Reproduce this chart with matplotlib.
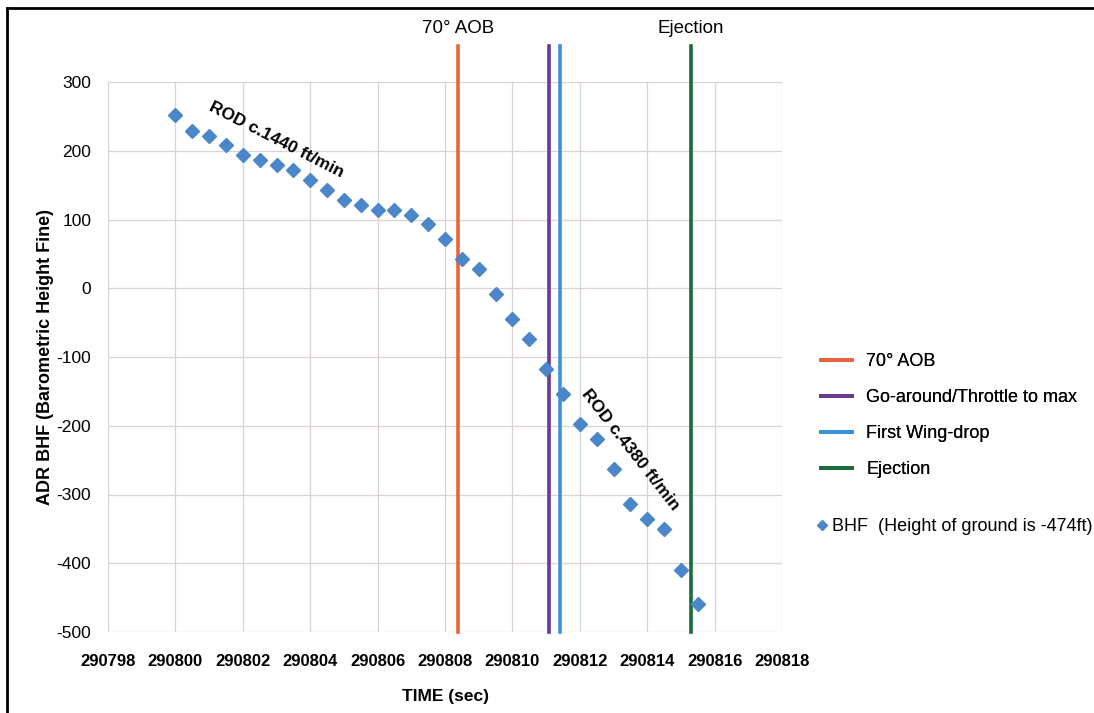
import numpy as np
import matplotlib
matplotlib.use("Agg")
import matplotlib.pyplot as plt
from matplotlib.lines import Line2D

plt.rcParams['font.family'] = ['Liberation Sans', 'DejaVu Sans']

# BHF samples, every half second
time = [290800.0, 290800.5, 290801.0, 290801.5, 290802.0, 290802.5, 290803.0,
        290803.5, 290804.0, 290804.5, 290805.0, 290805.5, 290806.0, 290806.5,
        290807.0, 290807.5, 290808.0, 290808.5, 290809.0, 290809.5, 290810.0,
        290810.5, 290811.0, 290811.5, 290812.0, 290812.5, 290813.0, 290813.5,
        290814.0, 290814.5, 290815.0, 290815.5]
bhf = [252, 229, 222, 208, 194, 187, 179, 172, 157, 143, 128, 121, 114, 114,
       107, 93, 72, 43, 28, -8, -45, -74, -117, -154, -198, -219, -263, -314,
       -336, -350, -410, -459]

# event markers
event_names = ['70° AOB', 'Go-around/Throttle to max', 'First Wing-drop', 'Ejection']
event_times = [290808.4, 290811.1, 290811.4, 290815.3]
event_colors = ['#E8643A', '#6A3A8E', '#3A92DE', '#1E6B3C']
event_top_labels = {'70° AOB': '70° AOB', 'Ejection': 'Ejection'}

xticks = list(range(290798, 290819, 2))
yticks = list(range(-500, 301, 100))

fig = plt.figure(figsize=(10.94, 7.13), dpi=100)
ax = fig.add_axes([108/1094, 1-632/713, (782-108)/1094, (632-82)/713])

ax.set_xlim(290798, 290818)
ax.set_ylim(-500, 300)
ax.set_xticks(xticks)
ax.set_yticks(yticks)
ax.set_xticklabels([str(t) for t in xticks], fontweight='bold', fontsize=12)
ax.set_yticklabels([str(t) for t in yticks], fontsize=12.5)
ax.tick_params(length=0)
ax.tick_params(axis='x', pad=16)
ax.tick_params(axis='y', pad=12)
for s in ax.spines.values():
    s.set_visible(False)
ax.grid(True, color='#dcd2d2', linewidth=0.9)
ax.set_axisbelow(True)

handles = []
for name, t, c in zip(event_names, event_times, event_colors):
    ax.plot([t, t], [-500, 352], color=c, linewidth=2.6, clip_on=False, zorder=2)
    handles.append(Line2D([], [], color=c, linewidth=2.8, label=name))
    if name in event_top_labels:
        ax.text(t, 378, event_top_labels[name], ha='center', va='center', fontsize=13.5)

ax.plot(time, bhf, linestyle='none', marker='D', markersize=7, color='#4A86C8',
        zorder=3)

ax.text(290803.0, 216, 'ROD c.1440 ft/min', rotation=-27, ha='center', va='center',
        fontsize=12.5, fontweight='bold')
ax.text(290813.5, -235, 'ROD c.4380 ft/min', rotation=-52, ha='center', va='center',
        fontsize=12.5, fontweight='bold')

ax.set_xlabel('TIME (sec)', fontsize=12.5, fontweight='bold', labelpad=14)
ax.set_ylabel('ADR BHF (Barometric Height Fine)', fontsize=13, fontweight='bold',
              labelpad=2)

leg1 = fig.legend(handles=handles, loc='upper left', bbox_to_anchor=(805/1094, 1-337/713),
                  frameon=False, fontsize=13, labelspacing=1.05, handlelength=1.7,
                  handletextpad=0.8)
bhf_h = Line2D([], [], linestyle='none', marker='D', markersize=5, color='#4A86C8',
               label='BHF  (Height of ground is -474ft)')
fig.legend(handles=[bhf_h], loc='upper left', bbox_to_anchor=(800/1094, 1-502/713),
           frameon=False, fontsize=13, handlelength=0.6, handletextpad=0.3)
fig.add_artist(leg1)

# frame around the page
fig.add_artist(Line2D([7/1094, 7/1094], [0, 1-8/713], color='black', linewidth=2,
                      transform=fig.transFigure))
fig.add_artist(Line2D([7/1094, 1], [1-8/713, 1-8/713], color='black', linewidth=2,
                      transform=fig.transFigure))

fig.savefig('out.png', dpi=100)
